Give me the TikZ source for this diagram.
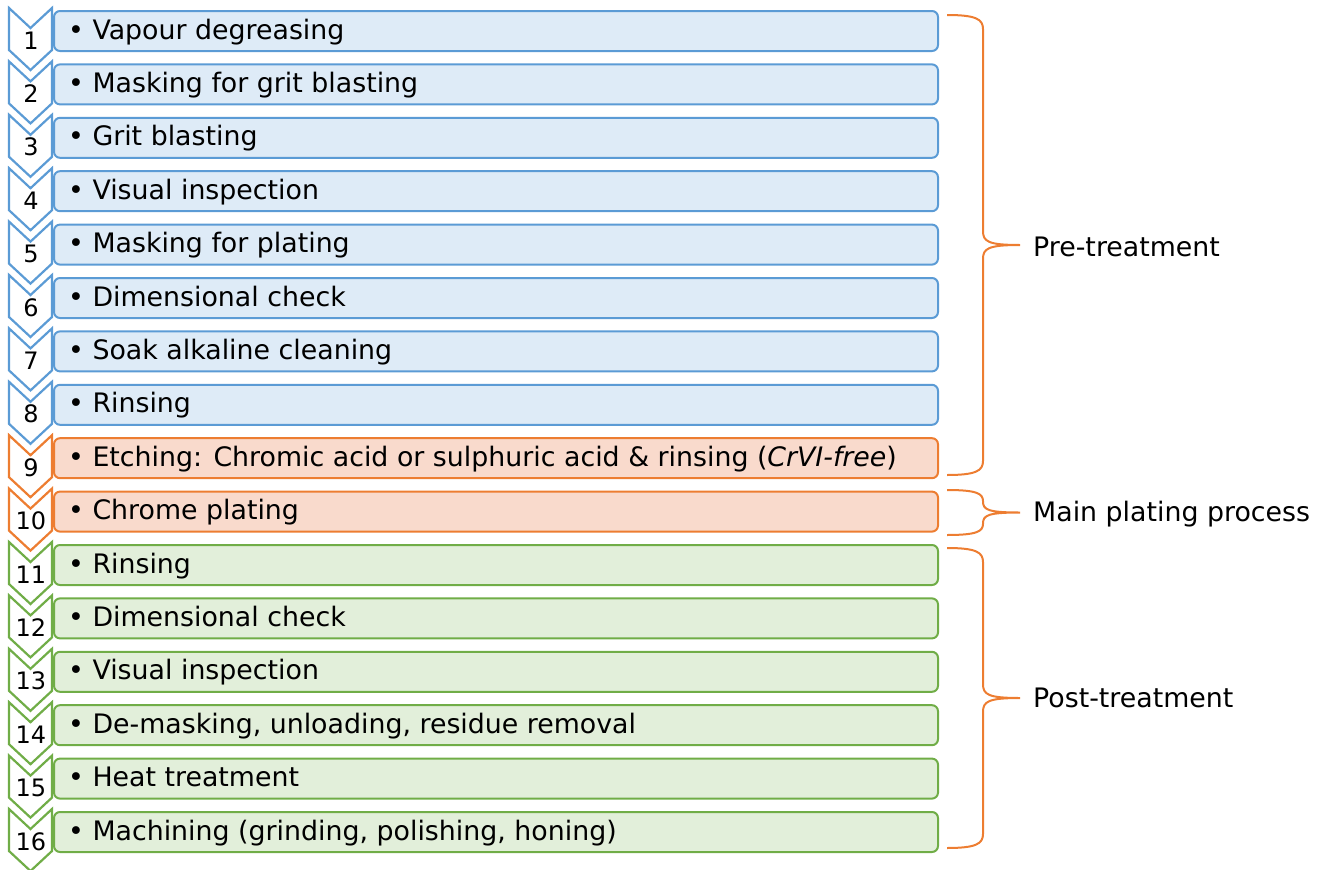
\documentclass[tikz,border=0pt]{standalone}
\usepackage{fontspec}
\setmainfont{DejaVu Sans}

\definecolor{bluline}{HTML}{5B9BD5}
\definecolor{blufill}{HTML}{DEEBF7}
\definecolor{orgline}{HTML}{ED7D31}
\definecolor{orgfill}{HTML}{F9DACC}
\definecolor{grnline}{HTML}{70AD47}
\definecolor{grnfill}{HTML}{E2EFDA}

% curly bracket on the right: top, bottom, corner size
\newcommand{\procbrace}[3]{%
	\draw[grpbrace] (947,#1) .. controls (976,#1) and (983,#1+0.3*#3) .. (983,#1+#3)
		-- (983,{(#1+#2)/2-#3}) .. controls (983,{(#1+#2)/2-0.25*#3}) and (988,{(#1+#2)/2}) .. (1020,{(#1+#2)/2})
		.. controls (988,{(#1+#2)/2}) and (983,{(#1+#2)/2+0.25*#3}) .. (983,{(#1+#2)/2+#3})
		-- (983,#2-#3) .. controls (983,#2-0.3*#3) and (976,#2) .. (947,#2);}

\begin{document}
\begin{tikzpicture}[x=1pt,y=-1pt,
		blu/.style={draw=bluline, fill=blufill},
		org/.style={draw=orgline, fill=orgfill},
		grn/.style={draw=grnline, fill=grnfill},
		procbox/.style={rounded corners=6pt, line width=2pt, minimum width=884pt, minimum height=40pt, anchor=north west, inner sep=0pt},
		chev/.style={line width=2.2pt, line join=miter},
		steptxt/.style={anchor=base west, inner sep=0pt, font=\fontsize{26.8}{30}\selectfont},
		stepnum/.style={anchor=base, inner sep=0pt, font=\fontsize{24}{27}\selectfont},
		grpbrace/.style={draw=orgline, line width=2pt},
		grplabel/.style={anchor=west, inner sep=0pt, font=\fontsize{26.8}{30}\selectfont}]
	\useasboundingbox (0,0) rectangle (1323,870);

	\foreach \i/\col/\txt in {1/blu/Vapour degreasing, 2/blu/Masking for grit blasting, 3/blu/Grit blasting,
			4/blu/Visual inspection, 5/blu/Masking for plating, 6/blu/Dimensional check,
			7/blu/Soak alkaline cleaning, 8/blu/Rinsing,
			9/org/{Etching: Chromic acid or sulphuric acid \& rinsing (\emph{CrVI-free})},
			10/org/Chrome plating,
			11/grn/Rinsing, 12/grn/Dimensional check, 13/grn/Visual inspection,
			14/grn/{De-masking, unloading, residue removal}, 15/grn/Heat treatment,
			16/grn/{Machining (grinding, polishing, honing)}} {
		\pgfmathsetmacro\T{10+(\i-1)*53.4}
		% chevron with the step number
		\draw[chev, \col, fill=white] (9,\T-2) -- (30.5,\T+18) -- (52,\T-2) -- (52,\T+40)
			-- (30.5,\T+60) -- (9,\T+40) -- cycle;
		\node[stepnum] (num\i) at (31,\T+39) {\i};
		\node[procbox, \col] (box\i) at (53,\T) {};
		\node[steptxt] (txt\i) at (68,\T+29) {\textbullet\ \txt};
	}

	\procbrace{15}{475}{14}
	\procbrace{490}{535}{11}
	\procbrace{548}{848}{14}

	\node[grplabel] (pre) at (1033,247) {Pre-treatment};
	\node[grplabel] (main) at (1033,514) {Main plating process};
	\node[grplabel] (post) at (1033,698) {Post-treatment};
\end{tikzpicture}
\end{document}
